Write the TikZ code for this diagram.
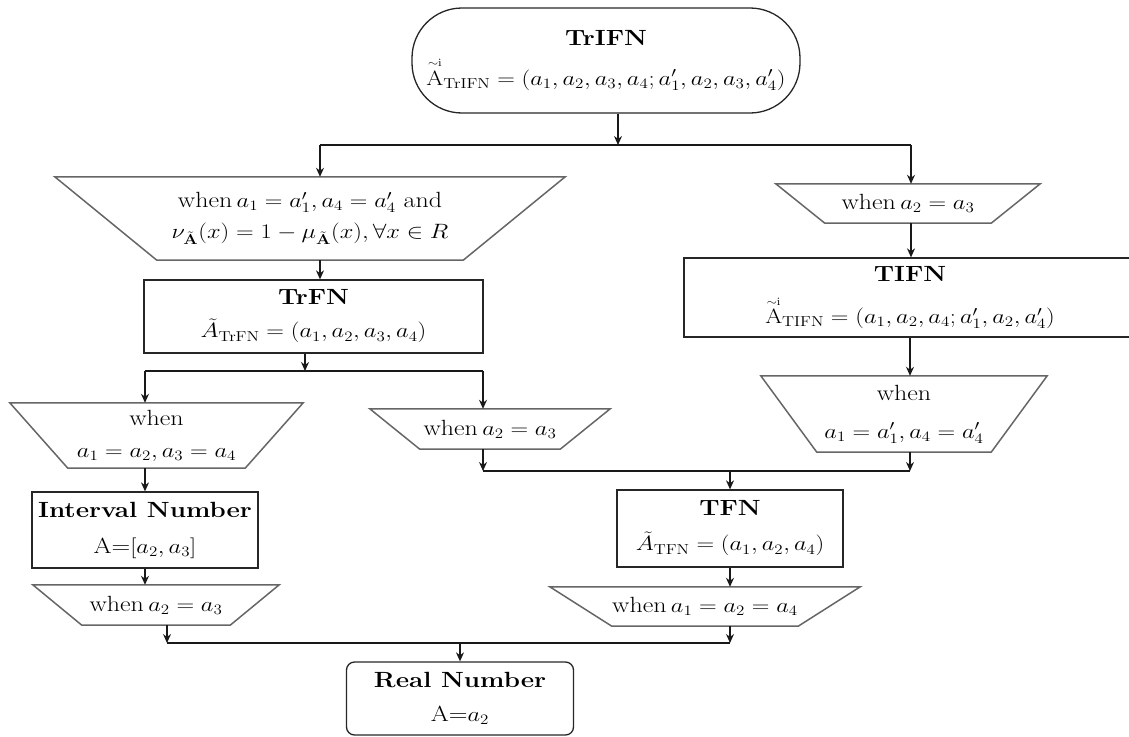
\documentclass[tikz,border=0pt]{standalone}
\usepackage{amsmath}
\usepackage{graphicx}
\usetikzlibrary{arrows.meta,calc}
\newcommand\trapdraw[2]{\draw[trapline] (#1.north west) -- (#1.north east) -- ([xshift=-#2]#1.south east) -- ([xshift=#2]#1.south west) -- cycle;}
\newcommand\IFNA[1]{\overset{\scriptscriptstyle\sim\mathrm{i}}{\mathrm{A}}_{\mathrm{#1}}}
\newcommand\sx[1]{\scalebox{1.18}[1]{#1}}
\tikzset{
  every node/.style={font=\fontsize{22}{27}\selectfont},
  box/.style n args={2}{draw=black!85, line width=1.3pt, minimum width=#1, minimum height=#2, inner sep=0pt, align=center},
  trapnode/.style n args={2}{minimum width=#1, minimum height=#2, inner sep=0pt, align=center},
  trapline/.style={draw=black!60, line width=1.5pt, line join=miter},
  ln/.style={line width=1.2pt, draw=black!90},
  arr/.style={ln, -{Stealth[length=9pt,width=8pt]}}
}
\begin{document}
\begin{tikzpicture}[x=1pt,y=-1pt]
\useasboundingbox (0,0) rectangle (1129,736);
% nodes
\node[box={388pt}{105pt}, rounded corners=50pt] (top) at (606,60.5)
  {\sx{\textbf{TrIFN}}\\[11pt] \sx{$\IFNA{TrIFN}=\left(a_1,a_2,a_3,a_4;a_1',a_2,a_3,a_4'\right)$}};
\node[trapnode={510pt}{83pt}] (t1) at (310,218.5)
  {\sx{when\,$a_1=a_1',a_4=a_4'$ and}\\[4pt] \sx{$\nu_{\tilde{\mathbf{A}}}(x)=1-\mu_{\tilde{\mathbf{A}}}(x),\forall x\in R$}};
\trapdraw{t1}{102pt}
\node[trapnode={264pt}{39pt}] (t2) at (908,203.5) {\sx{when\,$a_2=a_3$}};
\trapdraw{t2}{49pt}
\node[box={339pt}{73pt}] (trfn) at (313.5,316.5)
  {\sx{\textbf{TrFN}}\\[6pt] \sx{$\tilde{A}_{\mathrm{TrFN}}=\left(a_1,a_2,a_3,a_4\right)$}};
\node[box={452pt}{79pt}] (tifn) at (910,297.5)
  {\sx{\textbf{TIFN}}\\[14pt] \sx{$\IFNA{TIFN}=\left(a_1,a_2,a_4;a_1',a_2,a_4'\right)$}};
\node[trapnode={293pt}{65pt}] (t3) at (156.5,435.5) {\sx{when}\\[5pt] \sx{$a_1=a_2,a_3=a_4$}};
\trapdraw{t3}{58pt}
\node[trapnode={240pt}{40pt}] (t4) at (490,429) {\sx{when\,$a_2=a_3$}};
\trapdraw{t4}{50pt}
\node[trapnode={286pt}{76pt}] (t5) at (904,414) {\sx{when}\\[11pt] \sx{$a_1=a_1',a_4=a_4'$}};
\trapdraw{t5}{56pt}
\node[box={226pt}{76pt}] (intv) at (145,530)
  {\sx{\textbf{Interval Number}}\\[9pt] \sx{A=$\left[a_2,a_3\right]$}};
\node[box={226pt}{77pt}] (tfn) at (730,528.5)
  {\sx{\textbf{TFN}}\\[8pt] \sx{$\tilde{A}_{\mathrm{TFN}}=\left(a_1,a_2,a_4\right)$}};
\node[trapnode={246pt}{40pt}] (t6) at (156,605) {\sx{when\,$a_2=a_3$}};
\trapdraw{t6}{49pt}
\node[trapnode={310pt}{39pt}] (t7) at (705,606.5) {\sx{when\,$a_1=a_2=a_4$}};
\trapdraw{t7}{62pt}
\node[box={227pt}{73pt}, rounded corners=8pt] (real) at (460,698.5)
  {\sx{\textbf{Real Number}}\\[7pt] \sx{A=$a_2$}};
% junction coordinates
\coordinate (j1) at (618,145);
\coordinate (j1L) at (320,145);
\coordinate (j1R) at (911,145);
\coordinate (j2) at (305,371);
\coordinate (j2L) at (145,371);
\coordinate (j2R) at (483,371);
\coordinate (j3) at (730,471);
\coordinate (j3L) at (483,471);
\coordinate (j3R) at (910,471);
\coordinate (j4) at (460,643);
\coordinate (j4L) at (167,643);
\coordinate (j4R) at (730,643);
% connectors
\draw[arr] (top.south -| j1) -- (j1);
\draw[ln] (j1L) -- (j1R);
\draw[arr] (j1L) -- (j1L |- t1.north);
\draw[arr] (j1R) -- (j1R |- t2.north);
\draw[arr] (t1.south -| j1L) -- (trfn.north -| j1L);
\draw[arr] (t2.south -| j1R) -- (tifn.north -| j1R);
\draw[arr] (trfn.south -| j2) -- (j2);
\draw[ln] (j2L) -- (j2R);
\draw[arr] (j2L) -- (j2L |- t3.north);
\draw[arr] (j2R) -- (j2R |- t4.north);
\draw[arr] (t3.south -| j2L) -- (intv.north -| j2L);
\draw[arr] (intv.south -| j2L) -- (t6.north -| j2L);
\draw[arr] (tifn.south -| j3R) -- (t5.north -| j3R);
\draw[arr] (t4.south -| j3L) -- (j3L);
\draw[arr] (t5.south -| j3R) -- (j3R);
\draw[ln] (j3L) -- (j3R);
\draw[arr] (j3) -- (tfn.north -| j3);
\draw[arr] (tfn.south -| j3) -- (t7.north -| j3);
\draw[arr] (t6.south -| j4L) -- (j4L);
\draw[arr] (t7.south -| j4R) -- (j4R);
\draw[ln] (j4L) -- (j4R);
\draw[arr] (j4) -- (real.north -| j4);
\end{tikzpicture}
\end{document}
